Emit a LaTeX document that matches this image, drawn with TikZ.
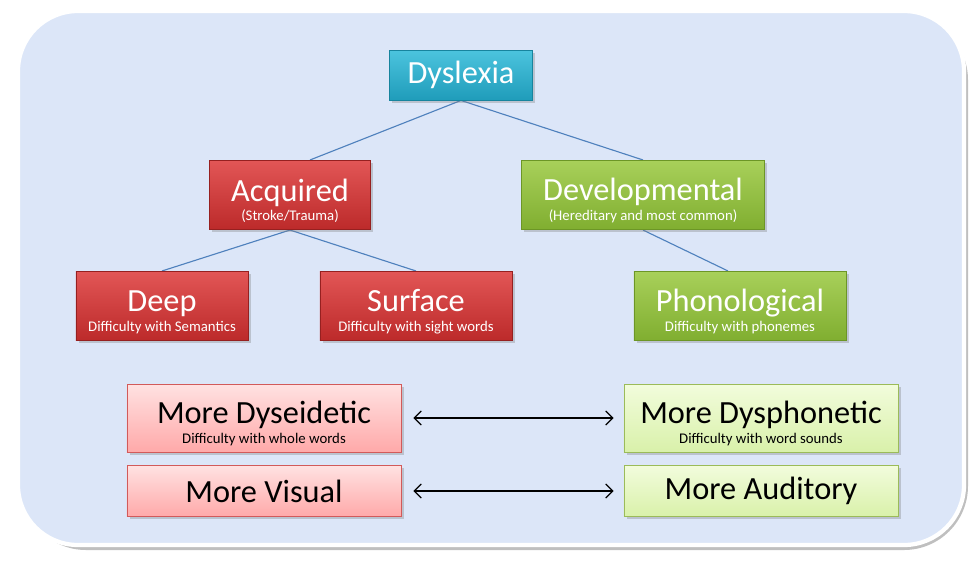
\documentclass[tikz,border=0pt]{standalone}
\usepackage{fontspec}
\setmainfont{Carlito}
\usetikzlibrary{
backgrounds,
shadows,
arrows.meta,
}

\definecolor{panelblue}{HTML}{DCE6F8}
\definecolor{linkblue}{HTML}{4F81BD}
\definecolor{tealtop}{HTML}{4CC4DE}
\definecolor{tealbot}{HTML}{1F9CBA}
\definecolor{tealedge}{HTML}{17849E}
\definecolor{redtop}{HTML}{E25656}
\definecolor{redbot}{HTML}{BC2A2A}
\definecolor{rededge}{HTML}{962020}
\definecolor{greentop}{HTML}{A8D05A}
\definecolor{greenbot}{HTML}{80AE30}
\definecolor{greenedge}{HTML}{6C9626}
\definecolor{pinktop}{HTML}{FFE2E2}
\definecolor{pinkbot}{HTML}{FFA9A9}
\definecolor{pinkedge}{HTML}{D25A5A}
\definecolor{limetop}{HTML}{F2FCDC}
\definecolor{limebot}{HTML}{D9F1AA}
\definecolor{limeedge}{HTML}{9BBB59}

\tikzset{
  box/.style={draw, line width=0.6pt, align=center, inner sep=0pt,
    drop shadow={opacity=0.35, shadow xshift=2pt, shadow yshift=-2pt},
    font=\fontsize{23}{23}\selectfont},
  rootbox/.style={box, draw=tealedge, top color=tealtop, bottom color=tealbot, text=white},
  acqbox/.style={box, draw=rededge, top color=redtop, bottom color=redbot, text=white},
  devbox/.style={box, draw=greenedge, top color=greentop, bottom color=greenbot, text=white},
  visbox/.style={box, draw=pinkedge, top color=pinktop, bottom color=pinkbot, text=black},
  audbox/.style={box, draw=limeedge, top color=limetop, bottom color=limebot, text=black},
  link/.style={draw=linkblue, line width=0.8pt},
  twoway/.style={{Straight Barb[length=5pt,width=10pt]}-{Straight Barb[length=5pt,width=10pt]}, line width=0.8pt},
}
\newcommand{\twoline}[2]{\rule{0pt}{24pt}#1\\[-9pt]{\fontsize{10.5}{11}\selectfont #2}}

\begin{document}
\begin{tikzpicture}[x=0.025cm, y=-0.025cm]
  \useasboundingbox (0,0) rectangle (974,562);

  % Panel behind everything
  \begin{scope}[on background layer]
    \fill[black!25, rounded corners=1.6cm] (22,16) rectangle (968,550);
    \draw[white, line width=3pt, fill=panelblue, rounded corners=1.5cm] (18,11) rectangle (964,545);
  \end{scope}

  % Tree of types
  \node[rootbox, minimum width=3.58cm, minimum height=1.25cm] (dys) at (461,75) {Dyslexia};
  \node[acqbox, minimum width=4.03cm, minimum height=1.73cm] (acq) at (290,195) {\twoline{Acquired}{(Stroke/Trauma)}};
  \node[devbox, minimum width=6.08cm, minimum height=1.73cm] (dev) at (643,195) {\twoline{Developmental}{(Hereditary and most common)}};
  \node[acqbox, minimum width=4.3cm, minimum height=1.73cm] (deep) at (162,306) {\twoline{Deep}{Difficulty with Semantics}};
  \node[acqbox, minimum width=4.8cm, minimum height=1.73cm] (surf) at (416,306) {\twoline{Surface}{Difficulty with sight words}};
  \node[devbox, minimum width=5.3cm, minimum height=1.73cm] (phon) at (740,306) {\twoline{Phonological}{Difficulty with phonemes}};

  \begin{scope}[on background layer]
    \draw[link] (dys.south) -- ([xshift=0.5cm]acq.north);
    \draw[link] (dys.south) -- (dev.north);
    \draw[link] (acq.south) -- (deep.north);
    \draw[link] (acq.south) -- (surf.north);
    \draw[link] (dev.south) -- ([xshift=-0.3cm]phon.north);
  \end{scope}

  % Two ends of the scale
  \node[visbox, minimum width=6.85cm, minimum height=1.7cm] (eid) at (264,418) {\twoline{More Dyseidetic}{Difficulty with whole words}};
  \node[audbox, minimum width=6.85cm, minimum height=1.7cm] (pho) at (761,418) {\twoline{More Dysphonetic}{Difficulty with word sounds}};
  \node[visbox, minimum width=6.85cm, minimum height=1.28cm] (vis) at (264,491) {More Visual};
  \node[audbox, minimum width=6.85cm, minimum height=1.28cm] (aud) at (761,491) {More Auditory};

  \draw[twoway, shorten <=0.3cm, shorten >=0.25cm] (eid) -- (pho);
  \draw[twoway, shorten <=0.3cm, shorten >=0.25cm] (vis) -- (aud);
\end{tikzpicture}
\end{document}
